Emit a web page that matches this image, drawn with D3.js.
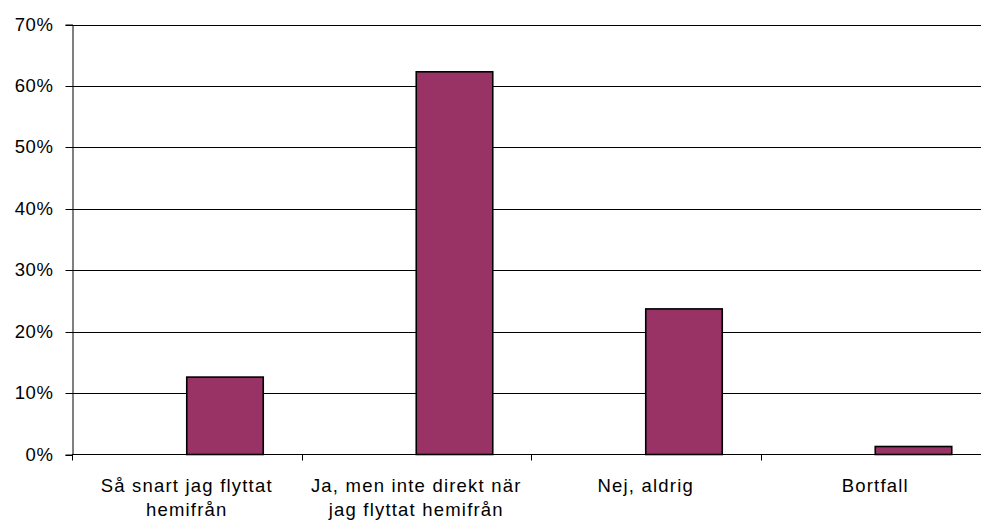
<!DOCTYPE html>
<html>
<head>
<meta charset="utf-8">
<script src="https://cdn.jsdelivr.net/npm/d3@7"></script>
<style>
html,body{margin:0;padding:0;background:#fff;overflow:hidden;}
svg{display:block;}
text{font-family:"Liberation Sans",Arial,sans-serif;fill:#000;}
</style>
</head>
<body>
<svg id="chart" width="981" height="522"></svg>
<script>
const categories = ["Så snart jag flyttat\nhemifrån", "Ja, men inte direkt när\njag flyttat hemifrån", "Nej, aldrig", "Bortfall"];
const values = [12.6, 62.3, 23.7, 1.3];
const yTicks = [0, 10, 20, 30, 40, 50, 60, 70];
const seriesSlots = ["empty", "value"];

(function () {
const svg = d3.select("#chart");
const mLeft = 72, mRight = 990, mTop = 24.5, mBottom = 454.5;

const x = d3.scaleBand().domain(categories).range([mLeft, mRight]).paddingInner(0).paddingOuter(0);
const x1 = d3.scaleBand().domain(seriesSlots).range([0, x.bandwidth()]).paddingInner(0).paddingOuter(0.5);
const y = d3.scaleLinear().domain([0, 70]).range([mBottom, mTop]);

// gridlines
svg.append("g").selectAll("line").data(yTicks.filter(d => d > 0)).join("line")
  .attr("x1", mLeft).attr("x2", mRight)
  .attr("y1", d => Math.round(y(d)) + 0.5).attr("y2", d => Math.round(y(d)) + 0.5)
  .attr("stroke", "#000").attr("stroke-width", 1);

// y axis
const yAxis = d3.axisLeft(y).tickValues(yTicks).tickFormat(d => d + "%").tickSize(7).tickPadding(12);
const gy = svg.append("g").attr("transform", `translate(${mLeft + 0.5},0)`).call(yAxis);
gy.select(".domain").attr("stroke", "#000");
gy.selectAll(".tick line").attr("stroke", "#000");
gy.selectAll(".tick").attr("transform", d => `translate(0,${Math.round(y(d)) + 0.5})`);
gy.selectAll("text").style("font-size", "18.5px").style("letter-spacing", "0.6px")
  .style("font-family", "'Liberation Sans', Arial, sans-serif").attr("fill", "#000");

// bars
svg.append("g").selectAll("rect").data(values).join("rect")
  .attr("x", (d, i) => x(categories[i]) + x1("value"))
  .attr("width", x1.bandwidth())
  .attr("y", d => y(d))
  .attr("height", d => mBottom - y(d))
  .attr("fill", "#993366")
  .attr("stroke", "#000").attr("stroke-width", 1.6);

// x axis line and ticks
const gx = svg.append("g");
gx.append("line").attr("x1", mLeft).attr("x2", mRight).attr("y1", mBottom).attr("y2", mBottom)
  .attr("stroke", "#000").attr("stroke-width", 1);
const bounds = categories.map(c => x(c)).concat([mRight]);
gx.selectAll("line.tk").data(bounds).join("line").attr("class", "tk")
  .attr("x1", d => Math.round(d) + 0.5).attr("x2", d => Math.round(d) + 0.5)
  .attr("y1", mBottom).attr("y2", mBottom + 6).attr("stroke", "#000");

// category labels
const lbl = gx.selectAll("text").data(categories).join("text")
  .attr("text-anchor", "middle")
  .style("font-size", "18.5px").style("letter-spacing", "1.2px");
lbl.each(function(c) {
  const lines = c.split("\n");
  const t = d3.select(this);
  lines.forEach((ln, k) => {
    t.append("tspan").attr("x", x(c) + x.bandwidth() / 2).attr("y", 492 + k * 24).text(ln);
  });
});
})();
</script>
</body>
</html>
